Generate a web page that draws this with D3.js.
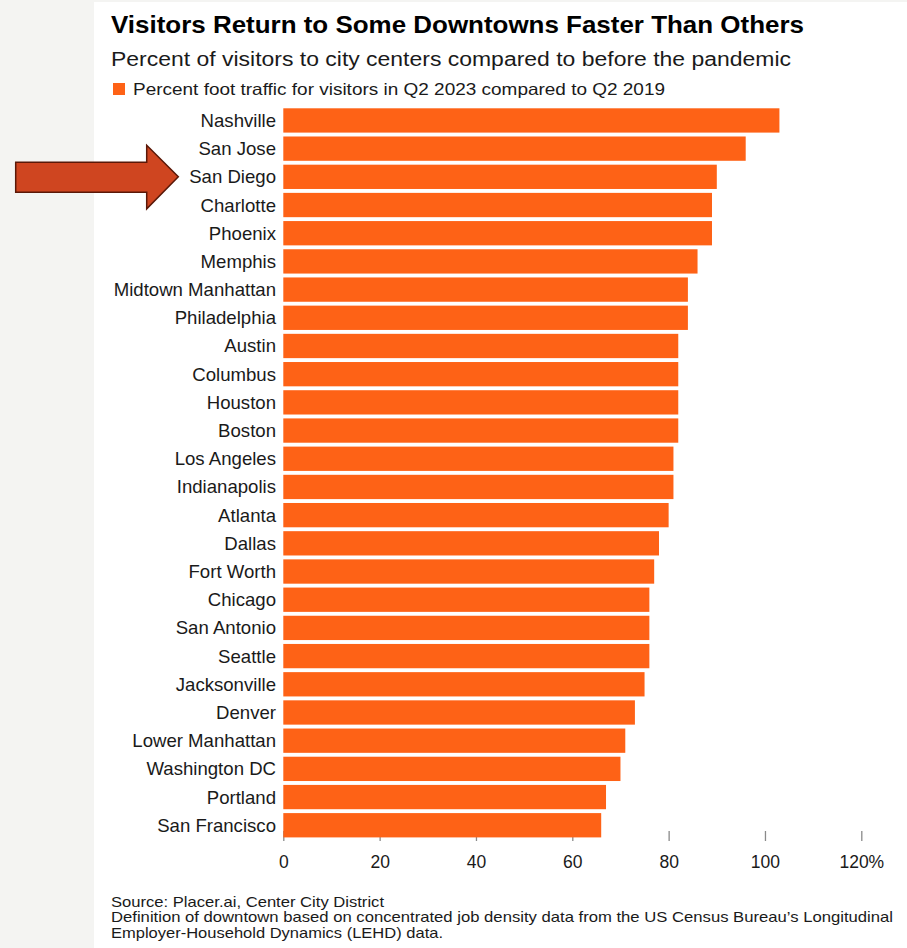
<!DOCTYPE html>
<html>
<head>
<meta charset="utf-8">
<script src="https://cdn.jsdelivr.net/npm/d3@7"></script>
<style>
  html, body { margin: 0; padding: 0; background: #f4f4f2; }
  svg { display: block; }
  text { font-family: "Liberation Sans", Arial, Helvetica, sans-serif; }
</style>
</head>
<body>
<script>
const cities = ["Nashville","San Jose","San Diego","Charlotte","Phoenix","Memphis","Midtown Manhattan","Philadelphia","Austin","Columbus","Houston","Boston","Los Angeles","Indianapolis","Atlanta","Dallas","Fort Worth","Chicago","San Antonio","Seattle","Jacksonville","Denver","Lower Manhattan","Washington DC","Portland","San Francisco"];
const values = [103,96,90,89,89,86,84,84,82,82,82,82,81,81,80,78,77,76,76,76,75,73,71,70,67,66];
const tickValues = [0,20,40,60,80,100,120];
const highlighted = "San Diego";
const title = "Visitors Return to Some Downtowns Faster Than Others";
const subtitle = "Percent of visitors to city centers compared to before the pandemic";
const legendLabel = "Percent foot traffic for visitors in Q2 2023 compared to Q2 2019";
const footnotes = ["Source: Placer.ai, Center City District",
  "Definition of downtown based on concentrated job density data from the US Census Bureau\u2019s Longitudinal",
  "Employer-Household Dynamics (LEHD) data."];

const W = 907, H = 948;
const orange = "#fe6216";

const svg = d3.select("body").append("svg").attr("width", W).attr("height", H);
svg.append("rect").attr("width", W).attr("height", H).attr("fill", "#f4f4f2");
svg.append("rect").attr("x", 94).attr("y", 2).attr("width", W - 94).attr("height", H - 2).attr("fill", "#fff");

svg.append("text").attr("x", 111).attr("y", 33).attr("font-size", 24.5).attr("font-weight", "bold")
  .attr("fill", "#000").attr("textLength", 693).attr("lengthAdjust", "spacingAndGlyphs").text(title);
svg.append("text").attr("x", 111).attr("y", 65.5).attr("font-size", 19.5).attr("fill", "#1a1a1a")
  .attr("textLength", 680).attr("lengthAdjust", "spacingAndGlyphs").text(subtitle);
svg.append("rect").attr("x", 113).attr("y", 83).attr("width", 12).attr("height", 12).attr("fill", orange);
svg.append("text").attr("x", 133).attr("y", 95).attr("font-size", 16.5).attr("fill", "#1a1a1a")
  .attr("textLength", 532).attr("lengthAdjust", "spacingAndGlyphs").text(legendLabel);

const x = d3.scaleLinear().domain([0, 120]).range([283.3, 861.3]);
const y = d3.scaleBand().domain(cities).range([106.35, 839.35]).paddingInner(0.138).paddingOuter(0.069);

// ticks (drawn behind bars)
const axis = d3.axisBottom(x).tickValues(tickValues).tickSize(10).tickPadding(15)
  .tickFormat(d => d === 120 ? d + "%" : d);
const gAxis = svg.append("g").attr("transform", "translate(0,831)").call(axis);
gAxis.select(".domain").remove();
gAxis.selectAll(".tick line").attr("stroke", "#8a8a8a").attr("stroke-width", 1.3);
gAxis.selectAll(".tick text").attr("font-size", 17.5).attr("fill", "#1a1a1a")
  .attr("font-family", "Liberation Sans, Arial, sans-serif");

// bars
svg.append("g").selectAll("rect").data(cities).join("rect")
  .attr("x", x(0)).attr("y", d => y(d))
  .attr("width", (d, i) => x(values[i]) - x(0))
  .attr("height", y.bandwidth())
  .attr("fill", orange);

// labels
svg.append("g").selectAll("text").data(cities).join("text")
  .attr("x", 276).attr("y", d => y(d) + y.bandwidth() / 2)
  .attr("dy", "0.35em").attr("text-anchor", "end")
  .attr("font-size", 18.6).attr("fill", "#1a1a1a").text(d => d);

// arrow pointing to highlighted city
const cy = y(highlighted) + y.bandwidth() / 2;
const arrowPts = [[15.7, cy - 14.5], [146.7, cy - 14.5], [146.7, cy - 31.5], [178.3, cy], [146.7, cy + 32], [146.7, cy + 15.5], [15.7, cy + 15.5]];
svg.append("path").attr("d", d3.line()(arrowPts) + "Z")
  .attr("fill", "#cf4520").attr("stroke", "#5a1808").attr("stroke-width", 1.5).attr("stroke-linejoin", "miter");

// footnotes
const footLens = [273, 782, 332];
svg.append("g").selectAll("text").data(footnotes).join("text")
  .attr("x", 111).attr("y", (d, i) => 906.5 + i * 15.5)
  .attr("font-size", 14.5).attr("fill", "#1a1a1a")
  .attr("textLength", (d, i) => footLens[i]).attr("lengthAdjust", "spacingAndGlyphs")
  .text(d => d);
</script>
</body>
</html>
